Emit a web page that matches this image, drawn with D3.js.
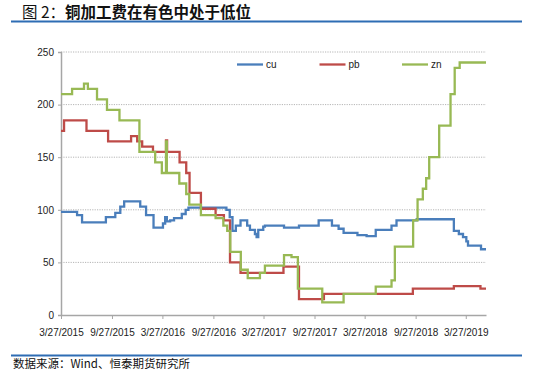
<!DOCTYPE html>
<meta charset="utf-8">
<style>
body { margin: 0; background: #fff; }
svg { display: block; background: #fff; }
.tick text, .legend text { font-family: "Liberation Sans Narrow", "Liberation Sans", sans-serif; font-size: 10px; fill: #222; }
</style>
<svg width="533" height="373"></svg>
<script src="https://d3js.org/d3.v7.min.js"></script>
<script>

// ---- data (change points of weekly series) ----
var names = ["cu", "pb", "zn"];
var colours = ["#4a7ebb", "#be4b48", "#98b954"];

var cu = [
  ["2015-03-27", 98], ["2015-05-24", 95], ["2015-06-11", 88], ["2015-09-05", 93],
  ["2015-10-09", 97], ["2015-10-27", 103], ["2015-11-10", 108], ["2016-01-07", 103],
  ["2016-01-28", 95], ["2016-02-24", 83], ["2016-03-29", 87], ["2016-04-06", 93],
  ["2016-04-12", 89], ["2016-04-24", 90], ["2016-05-08", 92], ["2016-06-05", 96],
  ["2016-06-19", 100], ["2016-06-29", 102], ["2016-11-13", 100], ["2016-11-25", 93],
  ["2016-12-05", 80], ["2016-12-17", 85], ["2017-01-03", 90], ["2017-01-27", 85],
  ["2017-02-06", 81], ["2017-02-24", 77], ["2017-03-02", 74], ["2017-03-08", 81],
  ["2017-03-26", 84], ["2017-04-01", 85], ["2017-06-09", 83], ["2017-08-02", 85],
  ["2017-10-12", 90], ["2017-11-29", 85], ["2017-12-23", 82], ["2018-01-10", 78],
  ["2018-03-01", 76], ["2018-04-03", 75], ["2018-05-06", 81], ["2018-07-02", 85],
  ["2018-07-20", 90], ["2018-10-01", 91], ["2019-02-12", 80], ["2019-03-02", 77],
  ["2019-03-17", 74], ["2019-03-29", 70], ["2019-04-04", 66], ["2019-05-21", 62.5],
  ["2019-06-08", 62.5]
];

var pb = [
  ["2015-03-27", 175], ["2015-04-07", 185], ["2015-06-27", 175], ["2015-09-13", 165],
  ["2015-12-05", 170], ["2015-12-27", 165], ["2016-01-14", 160], ["2016-02-22", 155],
  ["2016-04-09", 166], ["2016-04-13", 155], ["2016-05-28", 145], ["2016-06-21", 135],
  ["2016-07-03", 116], ["2016-08-13", 101], ["2016-10-05", 95], ["2016-11-04", 90],
  ["2016-11-26", 50], ["2017-01-03", 40], ["2017-06-07", 46], ["2017-08-02", 15],
  ["2017-10-31", 20], ["2018-09-17", 25], ["2019-02-12", 27.5], ["2019-05-19", 25],
  ["2019-06-08", 25]
];

var zn = [
  ["2015-03-27", 210], ["2015-05-06", 215], ["2015-06-18", 220], ["2015-07-02", 215],
  ["2015-08-04", 205], ["2015-09-09", 195], ["2015-10-24", 185], ["2016-01-04", 155],
  ["2016-03-01", 145], ["2016-03-25", 135], ["2016-04-09", 165], ["2016-04-12", 135],
  ["2016-05-27", 125], ["2016-06-21", 115], ["2016-07-02", 105], ["2016-08-13", 95],
  ["2016-10-05", 92], ["2016-11-02", 85], ["2016-11-16", 80], ["2016-11-27", 60],
  ["2017-01-04", 43], ["2017-01-29", 35], ["2017-03-14", 40], ["2017-04-01", 47],
  ["2017-06-09", 57], ["2017-07-06", 55], ["2017-07-29", 25], ["2017-10-25", 12],
  ["2018-01-10", 20], ["2018-05-06", 27], ["2018-07-02", 33], ["2018-07-14", 65],
  ["2018-09-18", 90], ["2018-10-04", 110], ["2018-10-23", 120], ["2018-11-04", 130],
  ["2018-11-15", 150], ["2018-12-21", 180], ["2019-01-31", 210], ["2019-02-15", 235],
  ["2019-03-05", 240], ["2019-06-08", 240]
];

var xTickLabels = ["3/27/2015", "9/27/2015", "3/27/2016", "9/27/2016", "3/27/2017",
                   "9/27/2017", "3/27/2018", "9/27/2018", "3/27/2019"];
var yTicks = [0, 50, 100, 150, 200, 250];

var title = "铜加工费在有色中处于低位";
var source = "数据来源：Wind、恒泰期货研究所";

// ---- chart ----
var svg = d3.select("svg");
var parseIso = d3.timeParse("%Y-%m-%d"),
    parseUs = d3.timeParse("%m/%d/%Y");

var plotLeft = 61, plotRight = 486, plotTop = 52, plotBottom = 315;

var x = d3.scaleTime()
          .domain([parseUs("3/27/2015"), parseUs("6/8/2019")])
          .range([plotLeft, plotRight]);
var y = d3.scaleLinear().domain([0, 250]).range([plotBottom, plotTop]);

// title + rule
svg.append("text")
   .attr("x", 22)
   .attr("y", 18)
   .style("font-family", "'Noto Sans CJK SC', sans-serif")
   .style("font-size", "15.5px")
   .attr("fill", "#111")
   .call(function (t) {
     t.append("tspan").attr("font-weight", "normal").text("图 2：");
     t.append("tspan").attr("font-weight", "bold").text(title);
   });

svg.append("line")
   .attr("x1", 11).attr("x2", 522)
   .attr("y1", 21.5).attr("y2", 21.5)
   .attr("stroke", "#2e6db4")
   .attr("stroke-width", 2);

// gridlines
svg.append("g")
   .selectAll("line")
   .data(yTicks.slice(1))
   .enter().append("line")
   .attr("x1", plotLeft).attr("x2", plotRight)
   .attr("y1", d => y(d)).attr("y2", d => y(d))
   .attr("stroke", "#b5b5b5")
   .attr("stroke-width", 1)
   .attr("stroke-dasharray", "1.2,1.2");

// y axis
var yAxis = svg.append("g")
   .attr("transform", "translate(" + plotLeft + ",0)")
   .call(d3.axisLeft(y).tickValues(yTicks).tickSize(3).tickPadding(4));
yAxis.select(".domain").attr("stroke", "#a6a6a6").attr("stroke-width", 1.5);
yAxis.selectAll(".tick line").attr("stroke", "#a6a6a6");

// x axis
var xAxis = svg.append("g")
   .attr("transform", "translate(0," + plotBottom + ")")
   .call(d3.axisBottom(x)
           .tickValues(xTickLabels.map(parseUs))
           .tickFormat(d3.timeFormat("%-m/%-d/%Y"))
           .tickSizeInner(4).tickSizeOuter(0).tickPadding(10));
xAxis.select(".domain").attr("stroke", "#a6a6a6").attr("stroke-width", 1.5);
xAxis.selectAll(".tick line").attr("stroke", "#a6a6a6");

// series lines
var line = d3.line()
   .curve(d3.curveStepAfter)
   .x(d => x(parseIso(d[0])))
   .y(d => y(d[1]));

[cu, pb, zn].forEach(function (series, i) {
  svg.append("path")
     .datum(series)
     .attr("fill", "none")
     .attr("stroke", colours[i])
     .attr("stroke-width", 2.3)
     .attr("d", line);
});

// legend
var legend = svg.append("g").attr("class", "legend");
names.forEach(function (n, i) {
  var lx = 237 + i * 82.5;
  legend.append("line")
        .attr("x1", lx).attr("x2", lx + 26)
        .attr("y1", 64.5).attr("y2", 64.5)
        .attr("stroke", colours[i])
        .attr("stroke-width", 2.3);
  legend.append("text")
        .attr("x", lx + 29)
        .attr("y", 68)
        .text(n);
});

// source + rule
svg.append("line")
   .attr("x1", 11).attr("x2", 522)
   .attr("y1", 355.5).attr("y2", 355.5)
   .attr("stroke", "#2e6db4")
   .attr("stroke-width", 2);

svg.append("text")
   .attr("x", 13)
   .attr("y", 368)
   .style("font-family", "'Noto Sans CJK SC', sans-serif")
   .style("font-size", "11.5px")
   .attr("fill", "#111")
   .text(source);

</script>
